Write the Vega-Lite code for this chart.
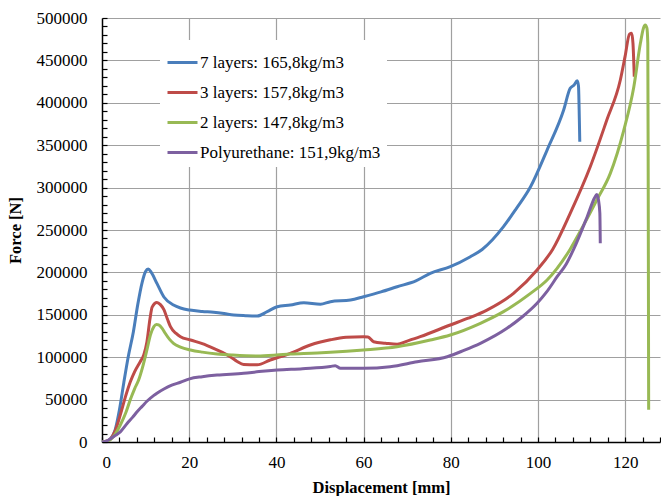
{
  "$schema": "https://vega.github.io/schema/vega-lite/v6.json",
  "autosize": {"type": "none"},
  "padding": {"left": 102, "top": 18, "right": 1, "bottom": 54},
  "width": 558,
  "height": 424,
  "background": "white",
  "datasets": {
    "curves": [
      {"x": 0, "f": 0, "s": "7 layers: 165,8kg/m3"},
      {"x": 1, "f": 1000, "s": "7 layers: 165,8kg/m3"},
      {"x": 2, "f": 4000, "s": "7 layers: 165,8kg/m3"},
      {"x": 3, "f": 14000, "s": "7 layers: 165,8kg/m3"},
      {"x": 4, "f": 38000, "s": "7 layers: 165,8kg/m3"},
      {"x": 5, "f": 70000, "s": "7 layers: 165,8kg/m3"},
      {"x": 6, "f": 100000, "s": "7 layers: 165,8kg/m3"},
      {"x": 7.2, "f": 130000, "s": "7 layers: 165,8kg/m3"},
      {"x": 8.2, "f": 162000, "s": "7 layers: 165,8kg/m3"},
      {"x": 9.2, "f": 188000, "s": "7 layers: 165,8kg/m3"},
      {"x": 10, "f": 201000, "s": "7 layers: 165,8kg/m3"},
      {"x": 10.6, "f": 204000, "s": "7 layers: 165,8kg/m3"},
      {"x": 11.3, "f": 200000, "s": "7 layers: 165,8kg/m3"},
      {"x": 12.6, "f": 187000, "s": "7 layers: 165,8kg/m3"},
      {"x": 14.2, "f": 171000, "s": "7 layers: 165,8kg/m3"},
      {"x": 16.4, "f": 161500, "s": "7 layers: 165,8kg/m3"},
      {"x": 18, "f": 158000, "s": "7 layers: 165,8kg/m3"},
      {"x": 20.1, "f": 155600, "s": "7 layers: 165,8kg/m3"},
      {"x": 23, "f": 154000, "s": "7 layers: 165,8kg/m3"},
      {"x": 25.6, "f": 153000, "s": "7 layers: 165,8kg/m3"},
      {"x": 28, "f": 151500, "s": "7 layers: 165,8kg/m3"},
      {"x": 30.2, "f": 149800, "s": "7 layers: 165,8kg/m3"},
      {"x": 33, "f": 149000, "s": "7 layers: 165,8kg/m3"},
      {"x": 35.6, "f": 148600, "s": "7 layers: 165,8kg/m3"},
      {"x": 37.9, "f": 153700, "s": "7 layers: 165,8kg/m3"},
      {"x": 40.2, "f": 159500, "s": "7 layers: 165,8kg/m3"},
      {"x": 43.2, "f": 161500, "s": "7 layers: 165,8kg/m3"},
      {"x": 46.3, "f": 164300, "s": "7 layers: 165,8kg/m3"},
      {"x": 50.1, "f": 162400, "s": "7 layers: 165,8kg/m3"},
      {"x": 52.4, "f": 165500, "s": "7 layers: 165,8kg/m3"},
      {"x": 57, "f": 167400, "s": "7 layers: 165,8kg/m3"},
      {"x": 60, "f": 171300, "s": "7 layers: 165,8kg/m3"},
      {"x": 64, "f": 177000, "s": "7 layers: 165,8kg/m3"},
      {"x": 67.7, "f": 183100, "s": "7 layers: 165,8kg/m3"},
      {"x": 72, "f": 190000, "s": "7 layers: 165,8kg/m3"},
      {"x": 75.3, "f": 198900, "s": "7 layers: 165,8kg/m3"},
      {"x": 79.9, "f": 206700, "s": "7 layers: 165,8kg/m3"},
      {"x": 84.5, "f": 218500, "s": "7 layers: 165,8kg/m3"},
      {"x": 87.2, "f": 227000, "s": "7 layers: 165,8kg/m3"},
      {"x": 92.1, "f": 253900, "s": "7 layers: 165,8kg/m3"},
      {"x": 95, "f": 275000, "s": "7 layers: 165,8kg/m3"},
      {"x": 98.3, "f": 301000, "s": "7 layers: 165,8kg/m3"},
      {"x": 102.1, "f": 344300, "s": "7 layers: 165,8kg/m3"},
      {"x": 105.9, "f": 391500, "s": "7 layers: 165,8kg/m3"},
      {"x": 107.4, "f": 417100, "s": "7 layers: 165,8kg/m3"},
      {"x": 108.3, "f": 421000, "s": "7 layers: 165,8kg/m3"},
      {"x": 109, "f": 426000, "s": "7 layers: 165,8kg/m3"},
      {"x": 109.3, "f": 420000, "s": "7 layers: 165,8kg/m3"},
      {"x": 109.5, "f": 380000, "s": "7 layers: 165,8kg/m3"},
      {"x": 109.6, "f": 354000, "s": "7 layers: 165,8kg/m3"},

      {"x": 0, "f": 0, "s": "3 layers: 157,8kg/m3"},
      {"x": 1, "f": 1000, "s": "3 layers: 157,8kg/m3"},
      {"x": 2, "f": 4000, "s": "3 layers: 157,8kg/m3"},
      {"x": 3, "f": 13000, "s": "3 layers: 157,8kg/m3"},
      {"x": 4.2, "f": 32000, "s": "3 layers: 157,8kg/m3"},
      {"x": 5.3, "f": 52000, "s": "3 layers: 157,8kg/m3"},
      {"x": 6.5, "f": 71000, "s": "3 layers: 157,8kg/m3"},
      {"x": 7.5, "f": 83000, "s": "3 layers: 157,8kg/m3"},
      {"x": 8.8, "f": 95000, "s": "3 layers: 157,8kg/m3"},
      {"x": 9.6, "f": 103000, "s": "3 layers: 157,8kg/m3"},
      {"x": 10.3, "f": 118000, "s": "3 layers: 157,8kg/m3"},
      {"x": 11, "f": 145000, "s": "3 layers: 157,8kg/m3"},
      {"x": 11.5, "f": 159000, "s": "3 layers: 157,8kg/m3"},
      {"x": 12.6, "f": 164500, "s": "3 layers: 157,8kg/m3"},
      {"x": 13.4, "f": 162000, "s": "3 layers: 157,8kg/m3"},
      {"x": 14.2, "f": 156000, "s": "3 layers: 157,8kg/m3"},
      {"x": 15, "f": 145000, "s": "3 layers: 157,8kg/m3"},
      {"x": 15.7, "f": 136000, "s": "3 layers: 157,8kg/m3"},
      {"x": 17, "f": 128000, "s": "3 layers: 157,8kg/m3"},
      {"x": 18, "f": 124200, "s": "3 layers: 157,8kg/m3"},
      {"x": 20.3, "f": 120300, "s": "3 layers: 157,8kg/m3"},
      {"x": 23, "f": 116000, "s": "3 layers: 157,8kg/m3"},
      {"x": 25.6, "f": 110500, "s": "3 layers: 157,8kg/m3"},
      {"x": 27.5, "f": 106000, "s": "3 layers: 157,8kg/m3"},
      {"x": 29.4, "f": 100600, "s": "3 layers: 157,8kg/m3"},
      {"x": 31, "f": 95000, "s": "3 layers: 157,8kg/m3"},
      {"x": 32.5, "f": 91500, "s": "3 layers: 157,8kg/m3"},
      {"x": 35.6, "f": 91000, "s": "3 layers: 157,8kg/m3"},
      {"x": 38.6, "f": 96700, "s": "3 layers: 157,8kg/m3"},
      {"x": 43.2, "f": 104600, "s": "3 layers: 157,8kg/m3"},
      {"x": 47.8, "f": 114400, "s": "3 layers: 157,8kg/m3"},
      {"x": 52.4, "f": 120500, "s": "3 layers: 157,8kg/m3"},
      {"x": 56, "f": 123500, "s": "3 layers: 157,8kg/m3"},
      {"x": 60, "f": 124200, "s": "3 layers: 157,8kg/m3"},
      {"x": 61, "f": 123800, "s": "3 layers: 157,8kg/m3"},
      {"x": 62.3, "f": 118300, "s": "3 layers: 157,8kg/m3"},
      {"x": 65, "f": 116500, "s": "3 layers: 157,8kg/m3"},
      {"x": 67.7, "f": 115200, "s": "3 layers: 157,8kg/m3"},
      {"x": 70, "f": 119000, "s": "3 layers: 157,8kg/m3"},
      {"x": 73, "f": 124200, "s": "3 layers: 157,8kg/m3"},
      {"x": 79.9, "f": 138000, "s": "3 layers: 157,8kg/m3"},
      {"x": 84, "f": 146000, "s": "3 layers: 157,8kg/m3"},
      {"x": 88.3, "f": 155600, "s": "3 layers: 157,8kg/m3"},
      {"x": 94.4, "f": 175300, "s": "3 layers: 157,8kg/m3"},
      {"x": 99.8, "f": 202800, "s": "3 layers: 157,8kg/m3"},
      {"x": 103.4, "f": 227400, "s": "3 layers: 157,8kg/m3"},
      {"x": 107.4, "f": 269700, "s": "3 layers: 157,8kg/m3"},
      {"x": 112, "f": 324600, "s": "3 layers: 157,8kg/m3"},
      {"x": 115.8, "f": 379700, "s": "3 layers: 157,8kg/m3"},
      {"x": 118.9, "f": 426900, "s": "3 layers: 157,8kg/m3"},
      {"x": 120, "f": 455000, "s": "3 layers: 157,8kg/m3"},
      {"x": 121, "f": 481000, "s": "3 layers: 157,8kg/m3"},
      {"x": 121.5, "f": 482000, "s": "3 layers: 157,8kg/m3"},
      {"x": 121.8, "f": 470000, "s": "3 layers: 157,8kg/m3"},
      {"x": 122.1, "f": 430800, "s": "3 layers: 157,8kg/m3"},

      {"x": 0, "f": 0, "s": "2 layers: 147,8kg/m3"},
      {"x": 1, "f": 0, "s": "2 layers: 147,8kg/m3"},
      {"x": 2, "f": 3000, "s": "2 layers: 147,8kg/m3"},
      {"x": 3, "f": 9000, "s": "2 layers: 147,8kg/m3"},
      {"x": 4.2, "f": 20000, "s": "2 layers: 147,8kg/m3"},
      {"x": 5.5, "f": 35000, "s": "2 layers: 147,8kg/m3"},
      {"x": 6.5, "f": 50000, "s": "2 layers: 147,8kg/m3"},
      {"x": 7.5, "f": 63000, "s": "2 layers: 147,8kg/m3"},
      {"x": 8.4, "f": 73000, "s": "2 layers: 147,8kg/m3"},
      {"x": 9.3, "f": 88000, "s": "2 layers: 147,8kg/m3"},
      {"x": 10.3, "f": 108500, "s": "2 layers: 147,8kg/m3"},
      {"x": 11.1, "f": 126000, "s": "2 layers: 147,8kg/m3"},
      {"x": 11.9, "f": 136000, "s": "2 layers: 147,8kg/m3"},
      {"x": 12.5, "f": 138500, "s": "2 layers: 147,8kg/m3"},
      {"x": 13, "f": 138000, "s": "2 layers: 147,8kg/m3"},
      {"x": 13.8, "f": 134000, "s": "2 layers: 147,8kg/m3"},
      {"x": 14.5, "f": 128200, "s": "2 layers: 147,8kg/m3"},
      {"x": 15.5, "f": 121000, "s": "2 layers: 147,8kg/m3"},
      {"x": 16.4, "f": 116400, "s": "2 layers: 147,8kg/m3"},
      {"x": 18, "f": 112000, "s": "2 layers: 147,8kg/m3"},
      {"x": 20.3, "f": 108500, "s": "2 layers: 147,8kg/m3"},
      {"x": 23, "f": 106000, "s": "2 layers: 147,8kg/m3"},
      {"x": 26.4, "f": 103800, "s": "2 layers: 147,8kg/m3"},
      {"x": 30, "f": 102500, "s": "2 layers: 147,8kg/m3"},
      {"x": 35.6, "f": 101400, "s": "2 layers: 147,8kg/m3"},
      {"x": 40, "f": 102500, "s": "2 layers: 147,8kg/m3"},
      {"x": 43.2, "f": 103800, "s": "2 layers: 147,8kg/m3"},
      {"x": 48, "f": 104800, "s": "2 layers: 147,8kg/m3"},
      {"x": 52.4, "f": 105800, "s": "2 layers: 147,8kg/m3"},
      {"x": 60, "f": 108500, "s": "2 layers: 147,8kg/m3"},
      {"x": 67.7, "f": 112400, "s": "2 layers: 147,8kg/m3"},
      {"x": 75.3, "f": 120300, "s": "2 layers: 147,8kg/m3"},
      {"x": 79.9, "f": 126200, "s": "2 layers: 147,8kg/m3"},
      {"x": 86.8, "f": 140000, "s": "2 layers: 147,8kg/m3"},
      {"x": 92.1, "f": 153700, "s": "2 layers: 147,8kg/m3"},
      {"x": 98.3, "f": 175300, "s": "2 layers: 147,8kg/m3"},
      {"x": 102.1, "f": 191000, "s": "2 layers: 147,8kg/m3"},
      {"x": 107.4, "f": 227400, "s": "2 layers: 147,8kg/m3"},
      {"x": 110.5, "f": 256000, "s": "2 layers: 147,8kg/m3"},
      {"x": 113.5, "f": 285400, "s": "2 layers: 147,8kg/m3"},
      {"x": 116.6, "f": 316800, "s": "2 layers: 147,8kg/m3"},
      {"x": 119.7, "f": 367900, "s": "2 layers: 147,8kg/m3"},
      {"x": 122, "f": 419000, "s": "2 layers: 147,8kg/m3"},
      {"x": 123.5, "f": 470100, "s": "2 layers: 147,8kg/m3"},
      {"x": 124.2, "f": 488000, "s": "2 layers: 147,8kg/m3"},
      {"x": 124.6, "f": 491700, "s": "2 layers: 147,8kg/m3"},
      {"x": 125, "f": 488000, "s": "2 layers: 147,8kg/m3"},
      {"x": 125.2, "f": 470000, "s": "2 layers: 147,8kg/m3"},
      {"x": 125.3, "f": 300000, "s": "2 layers: 147,8kg/m3"},
      {"x": 125.4, "f": 38000, "s": "2 layers: 147,8kg/m3"},

      {"x": 0, "f": 0, "s": "Polyurethane: 151,9kg/m3"},
      {"x": 1, "f": 1000, "s": "Polyurethane: 151,9kg/m3"},
      {"x": 2, "f": 4000, "s": "Polyurethane: 151,9kg/m3"},
      {"x": 3, "f": 7500, "s": "Polyurethane: 151,9kg/m3"},
      {"x": 4.2, "f": 12000, "s": "Polyurethane: 151,9kg/m3"},
      {"x": 5.8, "f": 22000, "s": "Polyurethane: 151,9kg/m3"},
      {"x": 7, "f": 29000, "s": "Polyurethane: 151,9kg/m3"},
      {"x": 8.1, "f": 36000, "s": "Polyurethane: 151,9kg/m3"},
      {"x": 9.2, "f": 42000, "s": "Polyurethane: 151,9kg/m3"},
      {"x": 10.3, "f": 48000, "s": "Polyurethane: 151,9kg/m3"},
      {"x": 11.9, "f": 55000, "s": "Polyurethane: 151,9kg/m3"},
      {"x": 12.6, "f": 57500, "s": "Polyurethane: 151,9kg/m3"},
      {"x": 14.2, "f": 62500, "s": "Polyurethane: 151,9kg/m3"},
      {"x": 16, "f": 67000, "s": "Polyurethane: 151,9kg/m3"},
      {"x": 18, "f": 70500, "s": "Polyurethane: 151,9kg/m3"},
      {"x": 20.1, "f": 74500, "s": "Polyurethane: 151,9kg/m3"},
      {"x": 23, "f": 77000, "s": "Polyurethane: 151,9kg/m3"},
      {"x": 26.4, "f": 79000, "s": "Polyurethane: 151,9kg/m3"},
      {"x": 32.5, "f": 81000, "s": "Polyurethane: 151,9kg/m3"},
      {"x": 36, "f": 83000, "s": "Polyurethane: 151,9kg/m3"},
      {"x": 40.2, "f": 84900, "s": "Polyurethane: 151,9kg/m3"},
      {"x": 46, "f": 86500, "s": "Polyurethane: 151,9kg/m3"},
      {"x": 52.4, "f": 89000, "s": "Polyurethane: 151,9kg/m3"},
      {"x": 53.5, "f": 90000, "s": "Polyurethane: 151,9kg/m3"},
      {"x": 54.7, "f": 87000, "s": "Polyurethane: 151,9kg/m3"},
      {"x": 60, "f": 87000, "s": "Polyurethane: 151,9kg/m3"},
      {"x": 66.1, "f": 88800, "s": "Polyurethane: 151,9kg/m3"},
      {"x": 72.3, "f": 94700, "s": "Polyurethane: 151,9kg/m3"},
      {"x": 79.2, "f": 100600, "s": "Polyurethane: 151,9kg/m3"},
      {"x": 83, "f": 108000, "s": "Polyurethane: 151,9kg/m3"},
      {"x": 86.8, "f": 116400, "s": "Polyurethane: 151,9kg/m3"},
      {"x": 92.9, "f": 134100, "s": "Polyurethane: 151,9kg/m3"},
      {"x": 96.5, "f": 148000, "s": "Polyurethane: 151,9kg/m3"},
      {"x": 99.8, "f": 163600, "s": "Polyurethane: 151,9kg/m3"},
      {"x": 102, "f": 177000, "s": "Polyurethane: 151,9kg/m3"},
      {"x": 104.4, "f": 194900, "s": "Polyurethane: 151,9kg/m3"},
      {"x": 106.5, "f": 210000, "s": "Polyurethane: 151,9kg/m3"},
      {"x": 108.2, "f": 227400, "s": "Polyurethane: 151,9kg/m3"},
      {"x": 111.3, "f": 265700, "s": "Polyurethane: 151,9kg/m3"},
      {"x": 113, "f": 288000, "s": "Polyurethane: 151,9kg/m3"},
      {"x": 113.5, "f": 292000, "s": "Polyurethane: 151,9kg/m3"},
      {"x": 113.9, "f": 285000, "s": "Polyurethane: 151,9kg/m3"},
      {"x": 114.2, "f": 270000, "s": "Polyurethane: 151,9kg/m3"},
      {"x": 114.3, "f": 234300, "s": "Polyurethane: 151,9kg/m3"}
    ]
  },
  "data": {"name": "curves"},
  "mark": {"type": "line", "strokeWidth": 3, "clip": true, "interpolate": "monotone"},
  "encoding": {
    "x": {
      "field": "x",
      "type": "quantitative",
      "scale": {"domain": [0, 128], "nice": false, "zero": false},
      "axis": {
        "title": "Displacement [mm]",
        "values": [0,4,8,12,16,20,24,28,32,36,40,44,48,52,56,60,64,68,72,76,80,84,88,92,96,100,104,108,112,116,120,124,128],
        "labelExpr": "datum.value % 20 === 0 ? datum.label : ''",
        "gridOpacity": {"condition": {"test": "datum.value % 20 === 0 && datum.value > 0", "value": 1}, "value": 0},
        "tickSize": -5,
        "labelPadding": 17,
        "titlePadding": 9,
        "labelFont": "Liberation Serif",
        "titleFont": "Liberation Serif"
      }
    },
    "y": {
      "field": "f",
      "type": "quantitative",
      "scale": {"domain": [0, 500000], "nice": false},
      "axis": {
        "title": "Force [N]",
        "values": [0,10000,20000,30000,40000,50000,60000,70000,80000,90000,100000,110000,120000,130000,140000,150000,160000,170000,180000,190000,200000,210000,220000,230000,240000,250000,260000,270000,280000,290000,300000,310000,320000,330000,340000,350000,360000,370000,380000,390000,400000,410000,420000,430000,440000,450000,460000,470000,480000,490000,500000],
        "labelExpr": "datum.value % 50000 === 0 ? format(datum.value, 'd') : ''",
        "gridOpacity": {"condition": {"test": "datum.value % 50000 === 0 && datum.value > 0", "value": 1}, "value": 0},
        "tickSize": -5,
        "labelPadding": 20,
        "titlePadding": 13,
        "labelFont": "Liberation Serif",
        "titleFont": "Liberation Serif"
      }
    },
    "color": {
      "field": "s",
      "type": "nominal",
      "scale": {
        "domain": ["7 layers: 165,8kg/m3", "3 layers: 157,8kg/m3", "2 layers: 147,8kg/m3", "Polyurethane: 151,9kg/m3"],
        "range": ["#4A7EBB", "#BE4B48", "#98B954", "#7D60A0"]
      },
      "legend": {
        "title": null,
        "orient": "none",
        "legendX": 58,
        "legendY": 22,
        "fillColor": "white",
        "padding": 6,
        "symbolType": "stroke",
        "symbolSize": 900,
        "symbolStrokeWidth": 3,
        "labelOffset": 1,
        "rowPadding": 5,
        "labelFont": "Liberation Serif",
        "labelFontSize": 17,
        "labelColor": "black",
        "labelLimit": 400
      }
    }
  },
  "config": {
    "font": "Liberation Serif",
    "view": {"stroke": null},
    "axis": {
      "labelFont": "Liberation Serif",
      "labelFontSize": 17,
      "labelColor": "black",
      "titleFont": "Liberation Serif",
      "titleFontSize": 16.5,
      "titleFontWeight": "bold",
      "titleColor": "black",
      "domainColor": "black",
      "domainWidth": 1.5,
      "tickColor": "black",
      "tickWidth": 1.2,
      "gridColor": "#A0A0A0",
      "gridWidth": 1.2
    }
  }
}
